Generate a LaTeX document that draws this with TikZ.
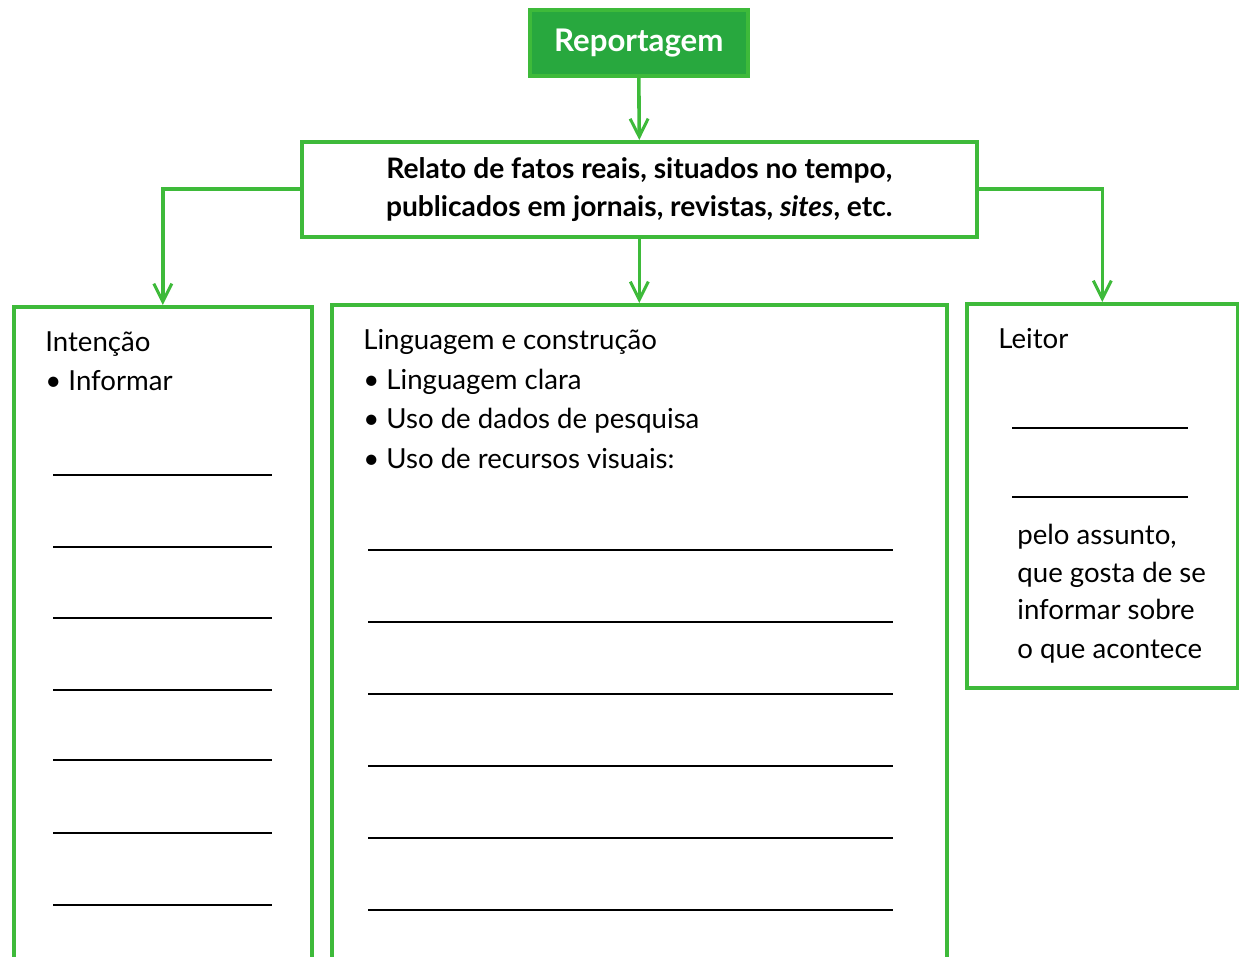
\documentclass[tikz,border=0pt]{standalone}
\usepackage{fontspec}
\setmainfont{Lato}
\usetikzlibrary{arrows.meta}
\definecolor{grn}{RGB}{62,186,58}
\definecolor{grnfill}{RGB}{40,168,62}
\begin{document}
\begin{tikzpicture}[x=0.5pt,y=-0.5pt,
  box/.style={draw=grn, line width=1.8pt, inner sep=0pt, anchor=north west},
  arr/.style={draw=grn, line width=1.8pt, -{Straight Barb[length=9pt,width=9pt,line width=1.5pt]}},
  txt/.style={inner sep=0pt, anchor=base west, font=\fontsize{13.8}{16}\selectfont},
  btxt/.style={inner sep=0pt, font=\fontsize{14.1}{19}\selectfont\bfseries, align=center},
  ln/.style={draw=black, line width=0.8pt}]
\useasboundingbox (0,0) rectangle (1239,957);
\clip (0,0) rectangle (1239,957);
% boxes
\node[box, fill=grnfill, minimum width=109pt, minimum height=33pt] (rep) at (528,8) {};
\node[inner sep=0pt, text=white, font=\fontsize{15.6}{18}\selectfont\bfseries] (reptxt) at (rep.center) {Reportagem};
\node[box, fill=white, minimum width=337.5pt, minimum height=47.5pt] (rel) at (300,140) {};
\node[btxt] (reltxt) at (rel.center) {Relato de fatos reais, situados no tempo,\\publicados em jornais, revistas, \textit{sites}, etc.};
\node[box, minimum width=149pt, minimum height=335pt] (int) at (12,305) {};
\node[box, minimum width=307.5pt, minimum height=336pt] (mid) at (330,303) {};
\node[box, minimum width=135.5pt, minimum height=192pt] (lei) at (965,302) {};
% connectors
\draw[arr] (rep.south) -- (rel.north);
\draw[arr] (rel.south) -- (mid.north);
\draw[arr] (rel.west) -| (int.north);
\draw[arr] (rel.east) -| (lei.north);
% Intencao
\node[txt] (i1) at (45,352) {Intenção};
\node[txt] (i2) at (45,391) {• Informar};
\foreach \y in {475,547,618,690,760,833,905} \draw[ln] (53,\y) -- (272,\y);
% Linguagem
\node[txt] (m1) at (363,350) {Linguagem e construção};
\node[txt] (m2) at (363,390) {• Linguagem clara};
\node[txt] (m3) at (363,429) {• Uso de dados de pesquisa};
\node[txt] (m4) at (363,469) {• Uso de recursos visuais:};
\foreach \y in {550,622,694,766,838,910} \draw[ln] (368,\y) -- (893,\y);
% Leitor
\node[txt] (l1) at (998,349) {Leitor};
\draw[ln] (1012,428) -- (1188,428);
\draw[ln] (1012,497) -- (1188,497);
\node[txt] (l2) at (1017,545) {pelo assunto,};
\node[txt] (l3) at (1017,582) {que gosta de se};
\node[txt] (l4) at (1017,620) {informar sobre};
\node[txt] (l5) at (1017,659) {o que acontece};
\end{tikzpicture}
\end{document}
